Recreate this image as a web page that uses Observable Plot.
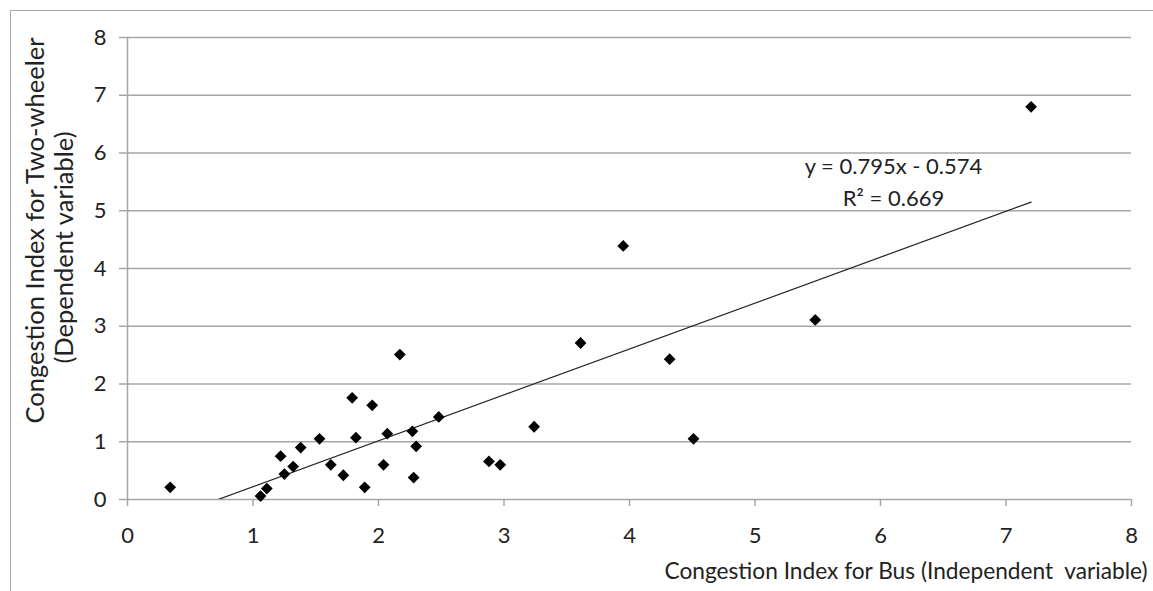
<!DOCTYPE html>
<html>
<head>
<meta charset="utf-8">
<script src="https://cdn.jsdelivr.net/npm/d3@7"></script>
<script src="https://cdn.jsdelivr.net/npm/@observablehq/plot@0.6"></script>
<style>
  html, body { margin: 0; padding: 0; background: #fff; }
  #wrap { position: relative; width: 1153px; height: 591px; overflow: hidden; }
  #frame { position: absolute; left: 10px; top: 10px; width: 1160px; height: 600px;
           border-top: 1.5px solid #a9a9a9; border-left: 1.5px solid #a9a9a9; pointer-events: none; }
</style>
</head>
<body>
<div id="wrap"><div id="frame"></div></div>
<script>
// Congestion index for bus (x) vs two-wheeler (y)
const busIndex = [0.34, 1.06, 1.11, 1.22, 1.25, 1.32, 1.38, 1.53, 1.62, 1.72, 1.79, 1.82, 1.89, 1.95, 2.04,
                  2.07, 2.17, 2.27, 2.30, 2.28, 2.48, 2.88, 2.97, 3.24, 3.61, 3.95, 4.32, 4.51, 5.48, 7.20];
const twoWheelerIndex = [0.21, 0.06, 0.19, 0.75, 0.44, 0.57, 0.90, 1.05, 0.60, 0.42, 1.76, 1.07, 0.21, 1.63, 0.60,
                  1.14, 2.51, 1.18, 0.92, 0.38, 1.43, 0.66, 0.60, 1.26, 2.71, 4.39, 2.43, 1.05, 3.11, 6.80];
const trendSlope = 0.795;
const trendIntercept = -0.574;
const rSquared = 0.669;
const xTicks = [0, 1, 2, 3, 4, 5, 6, 7, 8];
const yTicks = [0, 1, 2, 3, 4, 5, 6, 7, 8];
const xTitle = "Congestion Index for Bus (Independent\u00a0 variable)";
const yTitle1 = "Congestion Index for Two-wheeler";
const yTitle2 = "(Dependent variable)";

const points = busIndex.map((x, i) => ({x, y: twoWheelerIndex[i]}));
const xMin = d3.min(busIndex), xMax = d3.max(busIndex);
const trend = [xMin, xMax].map(x => ({x, y: trendSlope * x + trendIntercept}));
const eqText = `y = ${trendSlope}x - ${Math.abs(trendIntercept)}`;
const r2Text = `R\u00b2 = ${rSquared}`;

const grid = "#a6a6a6";
const ink = "#222";

const chart = Plot.plot({
  width: 1153,
  height: 591,
  marginLeft: 127,
  marginRight: 22,
  marginTop: 37,
  marginBottom: 92,
  style: {fontFamily: "Lato, sans-serif", background: "transparent", color: ink, overflow: "visible"},
  x: {domain: [0, 8]},
  y: {domain: [0, 8]},
  marks: [
    Plot.ruleY(yTicks.filter(d => d > 0), {stroke: grid, strokeWidth: 1.5}),
    Plot.ruleY([0], {stroke: grid, strokeWidth: 1.5}),
    Plot.ruleX([0], {stroke: grid, strokeWidth: 1.5}),
    Plot.axisX({ticks: xTicks, tickSize: 7, tickPadding: 21, fontSize: 22, stroke: grid, strokeWidth: 1.5, fill: ink, label: null, tickFormat: d => d}),
    Plot.axisY({ticks: yTicks, tickSize: 8, tickPadding: 13, fontSize: 22, stroke: grid, strokeWidth: 1.5, fill: ink, label: null, tickFormat: d => d}),
    Plot.line(trend, {x: "x", y: "y", stroke: "#222", strokeWidth: 1.2, clip: true}),
    Plot.dot(points, {x: "x", y: "y", symbol: "square", rotate: 45, r: 4.7, fill: "#000", stroke: "none"}),
    Plot.text([eqText], {frameAnchor: "top-left", dx: 766, dy: 129, text: d => d, fontSize: 22, fill: ink, textAnchor: "middle", lineAnchor: "middle"}),
    Plot.text([r2Text], {frameAnchor: "top-left", dx: 766, dy: 161, text: d => d, fontSize: 22, fill: ink, textAnchor: "middle", lineAnchor: "middle"}),
    Plot.text([xTitle], {frameAnchor: "bottom-right", dx: 16, dy: 72, text: d => d, fontSize: 22.7, fill: ink, textAnchor: "end", lineAnchor: "middle"}),
    Plot.text([yTitle1], {frameAnchor: "left", dx: -92, dy: -38, rotate: -90, text: d => d, fontSize: 25.5, fill: ink, textAnchor: "middle", lineAnchor: "middle"}),
    Plot.text([yTitle2], {frameAnchor: "left", dx: -63, dy: -21, rotate: -90, text: d => d, fontSize: 25.5, fill: ink, textAnchor: "middle", lineAnchor: "middle"})
  ]
});
document.getElementById("wrap").prepend(chart);
</script>
</body>
</html>
